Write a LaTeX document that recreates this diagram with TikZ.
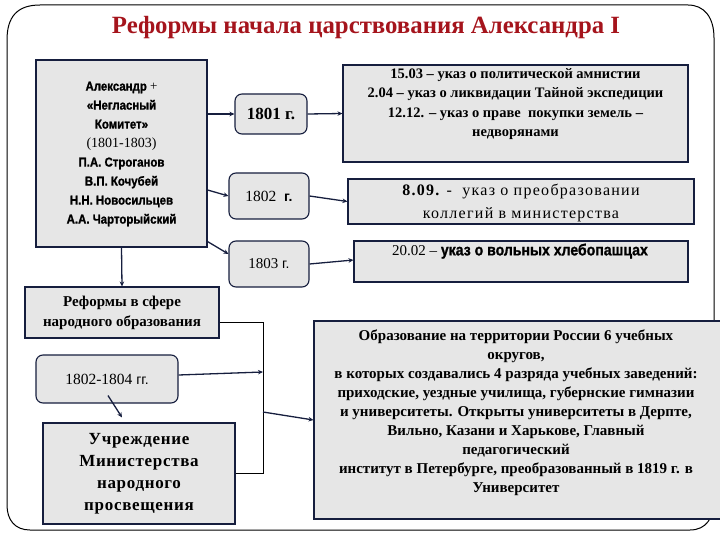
\documentclass[tikz,border=0pt]{standalone}
\usepackage{fontspec}
\setmainfont{Liberation Serif}
\newfontfamily\sansn[FakeStretch=0.9]{Liberation Sans}
\newfontfamily\sansh[FakeStretch=0.88,FakeBold=1.2]{Liberation Sans Bold}
\newfontfamily\sansr{Liberation Sans}
\usetikzlibrary{arrows.meta,calc}
\definecolor{boxfill}{RGB}{230,230,230}
\definecolor{navy}{RGB}{22,30,62}
\definecolor{titlered}{RGB}{165,20,28}
\begin{document}
\begin{tikzpicture}[x=1pt,y=-1pt,
  box/.style={draw=navy, fill=boxfill, line width=1.1pt, inner sep=0pt},
  rbox/.style={box, rounded corners=7pt},
  conn/.style={draw=navy, line width=1.3pt},
  arr/.style={conn, -{Stealth[length=5pt,width=4.5pt]}},
  thinl/.style={draw=black, line width=0.8pt},
  txt/.style={inner sep=0pt, align=center}
  ]
\useasboundingbox (0,0) rectangle (720,540);
% outer frame
\draw[black, line width=1pt] (7,40) .. controls (7,17) and (17,5) .. (40,5) -- (688,5)
  .. controls (704,5) and (714,17) .. (714,38) -- (714,500)
  .. controls (714,518) and (706,530) .. (690,530) -- (30,530)
  .. controls (15,530) and (7,520) .. (7,505) -- cycle;
% title
\node[font=\fontsize{24.8}{28}\selectfont\bfseries, text=titlered, inner sep=0pt] (title) at (366,28) {Реформы начала царствования Александра I};

% left box
\node[box, minimum width=171pt, minimum height=187pt] (L) at (121.5,153.5) {};
\node[txt, font=\fontsize{13}{19}\selectfont] (Lt) at (121.5,154) {%
{\sansh Александр} +\\
{\sansh «Негласный}\\
{\sansh Комитет»}\\
{\fontsize{14}{19}\selectfont (1801-1803)}\\
{\sansh П.А. Строганов}\\
{\sansh В.П. Кочубей}\\
{\sansh Н.Н. Новосильцев}\\
{\sansh А.А. Чарторыйский}};

% year boxes
\node[rbox, minimum width=72pt, minimum height=40pt, font=\fontsize{17}{20}\selectfont\bfseries] (Y1) at (271,114) {1801 г.};
\node[rbox, minimum width=80pt, minimum height=46pt, font=\fontsize{15.5}{20}\selectfont] (Y2a) at (269,196) {1802\ \ {\sansr\bfseries\fontsize{14}{20}\selectfont г.}};
\node[rbox, minimum width=80pt, minimum height=46pt, font=\fontsize{15}{20}\selectfont] (Y3) at (269,264) {1803 {\sansr\fontsize{14}{20}\selectfont г.}};

% right boxes
\node[box, minimum width=345pt, minimum height=97pt] (A) at (515.5,113.5) {};
\node[txt, font=\fontsize{14.5}{19.3}\selectfont\bfseries, anchor=north] (At) at ($(A.north)+(0,4)$) {%
15.03 -- указ о политической амнистии\\
2.04 -- указ о ликвидации Тайной экспедиции\\
12.12. -- указ о праве\ \ покупки земель --\\
недворянами};

\node[box, minimum width=346pt, minimum height=45pt] (B) at (521,201.5) {};
\node[txt, font=\fontsize{16}{23}\selectfont\addfontfeature{LetterSpace=8}] (Bt) at (521,203) {%
{\bfseries 8.09.} -\ \ указ о преобразовании\\
коллегий в министерства};

\node[box, minimum width=334pt, minimum height=41pt] (C) at (521,261.5) {};
\node[txt, font=\fontsize{15}{19}\selectfont, anchor=north] (Ct) at ($(C.north)+(-1,3)$) {%
20.02 -- {\sansh\fontsize{16}{19}\selectfont указ о вольных хлебопашцах}};

% bottom left
\node[box, minimum width=194pt, minimum height=51pt, font=\fontsize{15}{20}\selectfont\bfseries, align=center] (R) at (122,312.5) {Реформы в сфере\\народного образования};
\node[rbox, minimum width=142pt, minimum height=48pt, font=\fontsize{15.5}{20}\selectfont] (Y4) at (107,379) {1802-1804 {\sansr\fontsize{14}{20}\selectfont гг.}};
\node[box, minimum width=192pt, minimum height=101pt, font=\fontsize{17}{22}\selectfont\bfseries\addfontfeature{LetterSpace=4}, align=center] (U) at (139,473.5) {Учреждение\\Министерства\\народного\\просвещения};

% big box
\node[box, minimum width=408pt, minimum height=198pt] (Big) at (518,420) {};
\node[txt, font=\fontsize{15}{19}\selectfont\bfseries] (Bigt) at (516,413) {%
Образование на территории России 6 учебных\\
округов,\\
в которых создавались 4 разряда учебных заведений:\\
приходские, уездные училища, губернские гимназии\\
и университеты. Открыты университеты в Дерпте,\\
Вильно, Казани и Харькове, Главный\\
педагогический\\
институт в Петербурге, преобразованный в 1819 г. в\\
Университет};

% connectors
\draw[arr] (L.east |- Y1.west) -- (Y1.west);
\draw[arr] ($(L.east)+(0,36.5)$) -- (Y2a.west);
\draw[arr] ($(L.south east)+(0,-6)$) -- ($(Y3.west)+(0,-10)$);
\draw[arr] (Y1.east) -- (A.west);
\draw[arr] (Y2a.east) -- (B.west);
\draw[arr] (Y3.east) -- ($(C.west)+(0,-1.5)$);
\draw[arr] (L.south) -- (R.north);
\draw[arr] ($(Y4.south)+(1,-8)$) -- ($(U.north)+(-17,-5)$);

\coordinate (bt) at (263,322);
\coordinate (bb) at (263,473);
\coordinate (bm1) at (263,372);
\coordinate (bm2) at (263,412);
\draw[thinl] (R.east |- bt) -- (bt) -- (bb) -- (U.east |- bb);
\draw[arr] ($(Y4.east)+(0,-4)$) -- (bm1);
\draw[arr] (bm2) -- (Big.west);
\end{tikzpicture}
\end{document}
